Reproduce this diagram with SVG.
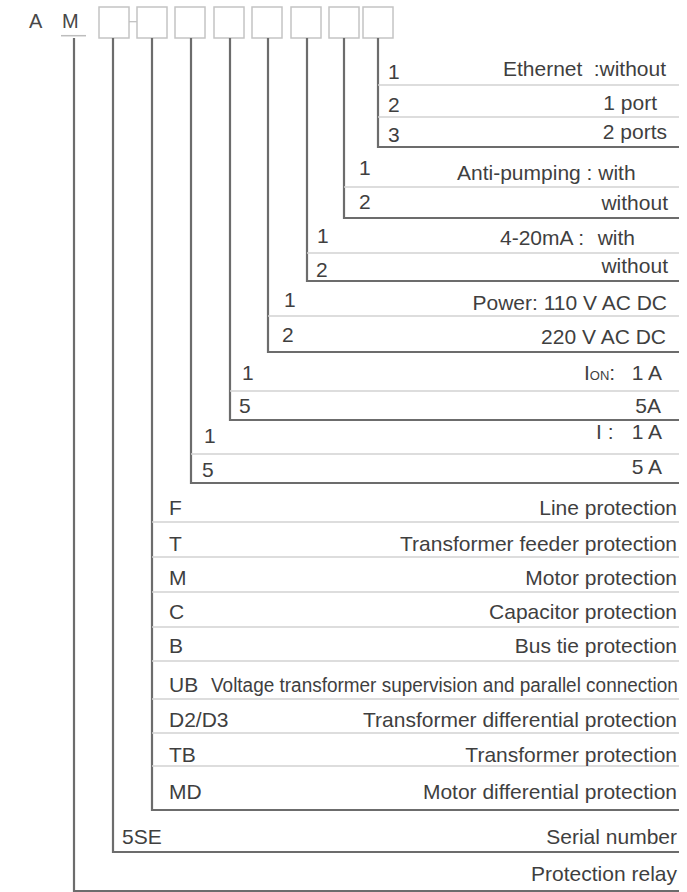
<svg xmlns="http://www.w3.org/2000/svg" width="687" height="892" viewBox="0 0 687 892">
<style>
text{font-family:"Liberation Sans",Arial,sans-serif;font-size:21px;fill:#3f3f3f}
.r{text-anchor:end}
.box{fill:none;stroke:#c4c4c4;stroke-width:1.5}
.br{fill:none;stroke:#6c6c6c;stroke-width:2.2}
.sep{stroke:#d2d2d2;stroke-width:1.3}
.hd{font-size:20px;fill:#484848}
</style>
<rect width="687" height="892" fill="#fff"/>
<g id="code-header">
<text class="hd" x="29" y="28">A</text>
<text class="hd" x="62" y="28">M</text>
<line x1="61" y1="35.7" x2="86" y2="35.7" stroke="#bdbdbd" stroke-width="1.5"/>
<rect class="box" x="99" y="7" width="30" height="31"/>
<line x1="129" y1="21.7" x2="137" y2="21.7" stroke="#bdbdbd" stroke-width="1.2"/>
<rect class="box" x="137" y="7" width="30" height="31"/>
<rect class="box" x="175" y="7" width="30" height="31"/>
<rect class="box" x="214" y="7" width="30" height="31"/>
<rect class="box" x="252" y="7" width="30" height="31"/>
<rect class="box" x="291" y="7" width="30" height="31"/>
<rect class="box" x="329" y="7" width="30" height="31"/>
<rect class="box" x="363" y="7" width="30" height="31"/>
</g>
<g id="connectors">
<path class="br" d="M378,38 V147 H679"/>
<path class="br" d="M344,38 V218 H679"/>
<path class="br" d="M307,38 V281 H679"/>
<path class="br" d="M268,38 V352 H679"/>
<path class="br" d="M230,38 V420 H679"/>
<path class="br" d="M191,38 V483 H679"/>
<path class="br" d="M152,38 V810 H679"/>
<path class="br" d="M113,38 V852 H679"/>
<path class="br" d="M74,38 V891 H679"/>
</g>
<g id="ethernet">
<line class="sep" x1="378" y1="85" x2="679" y2="85"/>
<line class="sep" x1="378" y1="117" x2="679" y2="117"/>
<text x="388" y="79">1</text>
<text x="503" y="76">Ethernet</text>
<text class="r" x="666" y="76">:without</text>
<text x="388" y="112">2</text>
<text class="r" x="657" y="110">1 port</text>
<text x="388" y="142">3</text>
<text class="r" x="667" y="139">2 ports</text>
</g>
<g id="anti-pumping">
<line class="sep" x1="344" y1="187" x2="679" y2="187"/>
<text x="359" y="175">1</text>
<text x="457" y="180">Anti-pumping : with</text>
<text x="359" y="209">2</text>
<text class="r" x="668" y="210">without</text>
</g>
<g id="analog-output">
<line class="sep" x1="307" y1="253" x2="679" y2="253"/>
<text x="317" y="243">1</text>
<text x="500" y="245">4-20mA :</text>
<text class="r" x="635" y="245">with</text>
<text x="316" y="277">2</text>
<text class="r" x="668" y="273">without</text>
</g>
<g id="power">
<line class="sep" x1="268" y1="316" x2="679" y2="316"/>
<text x="284" y="307">1</text>
<text class="r" x="667" y="310">Power: 110 V AC DC</text>
<text x="282" y="342">2</text>
<text class="r" x="666" y="344">220 V AC DC</text>
</g>
<g id="ion">
<line class="sep" x1="230" y1="391" x2="679" y2="391"/>
<text x="242" y="380">1</text>
<text x="584" y="380">I<tspan font-size="13">ON</tspan>:</text>
<text class="r" x="662" y="380">1 A</text>
<text x="239" y="413">5</text>
<text class="r" x="661" y="413">5A</text>
</g>
<g id="current">
<line class="sep" x1="191" y1="454" x2="679" y2="454"/>
<text x="204" y="443">1</text>
<text x="596" y="439">I :</text>
<text class="r" x="662" y="439">1 A</text>
<text x="202" y="477">5</text>
<text class="r" x="662" y="474">5 A</text>
</g>
<g id="protection-type">
<line class="sep" x1="152" y1="522" x2="679" y2="522"/>
<line class="sep" x1="152" y1="557" x2="679" y2="557"/>
<line class="sep" x1="152" y1="592" x2="679" y2="592"/>
<line class="sep" x1="152" y1="627" x2="679" y2="627"/>
<line class="sep" x1="152" y1="661" x2="679" y2="661"/>
<line class="sep" x1="152" y1="699" x2="679" y2="699"/>
<line class="sep" x1="152" y1="733" x2="679" y2="733"/>
<line class="sep" x1="152" y1="766" x2="679" y2="766"/>
<text x="169" y="515">F</text>
<text class="r" x="677" y="515">Line protection</text>
<text x="169" y="551">T</text>
<text class="r" x="677" y="551">Transformer feeder protection</text>
<text x="169" y="585">M</text>
<text class="r" x="677" y="585">Motor protection</text>
<text x="169" y="619">C</text>
<text class="r" x="677" y="619">Capacitor protection</text>
<text x="169" y="653">B</text>
<text class="r" x="677" y="653">Bus tie protection</text>
<text x="169" y="692">UB</text>
<text transform="translate(211,692) scale(0.903,1)" x="0" y="0">Voltage transformer supervision and parallel connection</text>
<text x="169" y="727">D2/D3</text>
<text class="r" x="677" y="727">Transformer differential protection</text>
<text x="169" y="762">TB</text>
<text class="r" x="677" y="762">Transformer protection</text>
<text x="169" y="799">MD</text>
<text class="r" x="677" y="799">Motor differential protection</text>
</g>
<g id="serial">
<text x="122" y="844">5SE</text>
<text class="r" x="677" y="844">Serial number</text>
</g>
<g id="relay">
<text class="r" x="677" y="881">Protection relay</text>
</g>
</svg>
